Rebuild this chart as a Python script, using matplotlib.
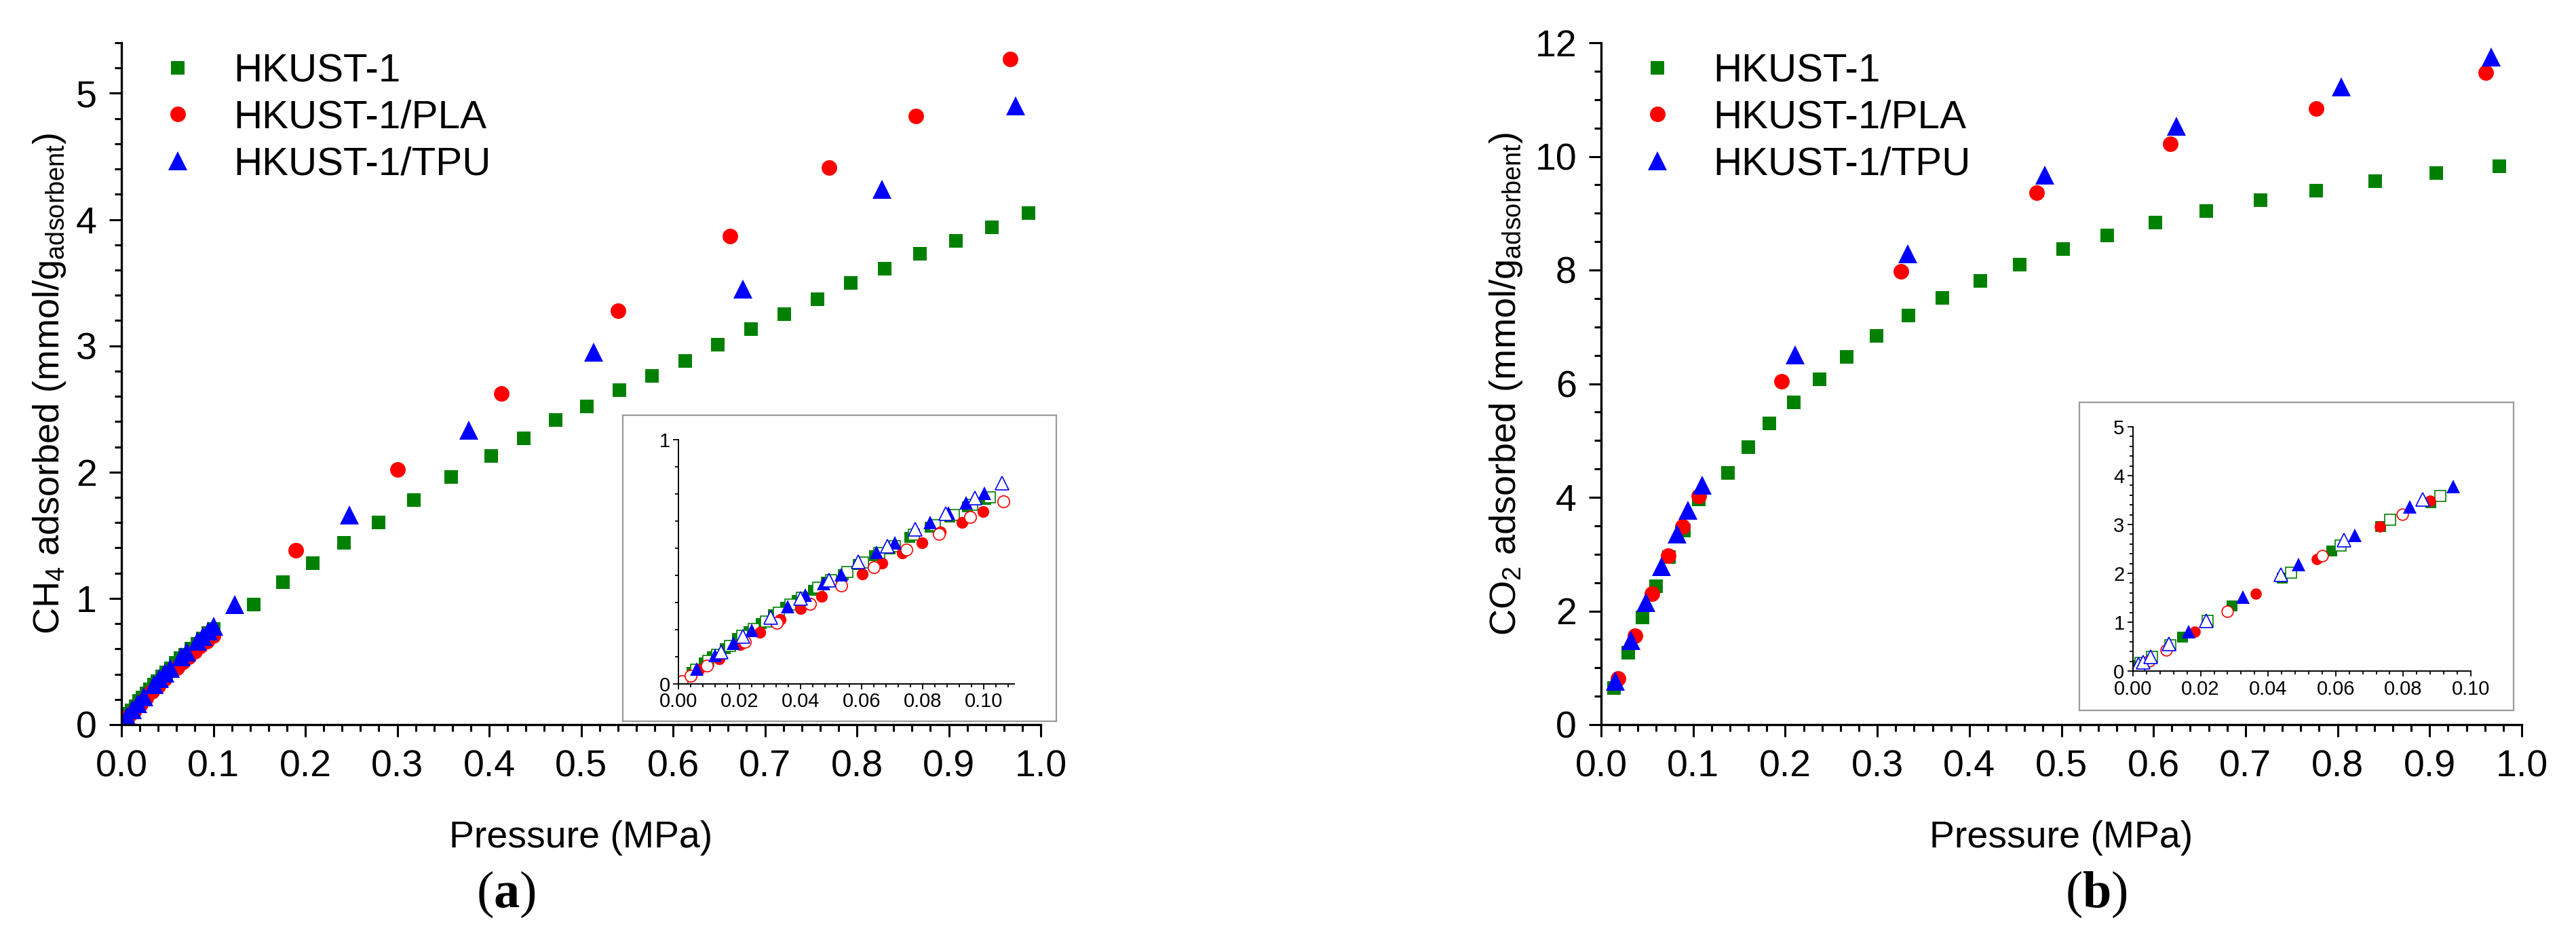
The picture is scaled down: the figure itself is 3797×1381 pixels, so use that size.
import numpy as np
import matplotlib
matplotlib.use("Agg")
import matplotlib.pyplot as plt
from matplotlib.ticker import MultipleLocator, FormatStrFormatter

plt.rcParams["font.family"] = ["Liberation Sans", "DejaVu Sans"]
plt.rcParams["mathtext.default"] = "regular"
plt.rcParams["mathtext.fontset"] = "custom"
plt.rcParams["mathtext.bf"] = "Liberation Serif:bold"

# ---------------- (a) CH4 ----------------
# low pressure region (inset), filled = adsorption, open = desorption
a_hk_p = [0.0044, 0.0084, 0.0112, 0.0153, 0.0193, 0.0230, 0.0271, 0.0312, 0.0352, 0.0389, 0.0443,
          0.0484, 0.0539, 0.0589, 0.0643, 0.0693, 0.0757, 0.0825, 0.0888, 0.0947, 0.1006]
a_hk_q = [0.048, 0.085, 0.112, 0.144, 0.186, 0.213, 0.246, 0.282, 0.315, 0.342, 0.384,
          0.416, 0.448, 0.489, 0.526, 0.554, 0.600, 0.641, 0.683, 0.724, 0.756]
a_hk_des_p = [0.0058, 0.0098, 0.0127, 0.0168, 0.0208, 0.0246, 0.0287, 0.0328, 0.0367, 0.0405, 0.0458,
              0.0500, 0.0553, 0.0604, 0.0657, 0.0708, 0.0772, 0.0840, 0.0903, 0.0962, 0.1020]
a_hk_des_q = [0.058, 0.095, 0.120, 0.155, 0.196, 0.224, 0.256, 0.292, 0.324, 0.352, 0.394,
              0.425, 0.458, 0.498, 0.536, 0.564, 0.610, 0.650, 0.692, 0.733, 0.765]
a_pla_p = [0.0066, 0.0134, 0.0203, 0.0266, 0.0334, 0.0400, 0.0468, 0.0602, 0.0666, 0.0734, 0.0797,
           0.0857, 0.0929, 0.0997]
a_pla_q = [0.057, 0.103, 0.160, 0.211, 0.264, 0.308, 0.358, 0.451, 0.494, 0.537, 0.579,
           0.621, 0.660, 0.706]
a_pla_des_p = [0.0012, 0.0039, 0.0094, 0.0218, 0.0323, 0.0430, 0.0534, 0.0641, 0.0747, 0.0854, 0.0956, 0.1065]
a_pla_des_q = [0.011, 0.034, 0.075, 0.172, 0.250, 0.328, 0.404, 0.478, 0.549, 0.614, 0.683, 0.747]
a_tpu_p = [0.0059, 0.0121, 0.0180, 0.0241, 0.0357, 0.0416, 0.0475, 0.0534, 0.0648, 0.0709, 0.0825,
           0.0884, 0.0943, 0.1002]
a_tpu_q = [0.062, 0.117, 0.167, 0.220, 0.316, 0.365, 0.411, 0.448, 0.540, 0.577, 0.660,
           0.701, 0.742, 0.781]
a_tpu_des_p = [0.0139, 0.0212, 0.0302, 0.0400, 0.0493, 0.0589, 0.0684, 0.0775, 0.0875, 0.0970, 0.1061]
a_tpu_des_q = [0.131, 0.195, 0.273, 0.351, 0.425, 0.499, 0.563, 0.632, 0.696, 0.761, 0.821]

# high pressure region (main plot)
a_hk_hp_p = [0.144, 0.176, 0.208, 0.242, 0.280, 0.318, 0.359, 0.402, 0.438, 0.472, 0.506, 0.542,
             0.577, 0.613, 0.649, 0.685, 0.721, 0.757, 0.793, 0.830, 0.869, 0.908, 0.947, 0.987]
a_hk_hp_q = [0.95, 1.13, 1.28, 1.44, 1.60, 1.78, 1.96, 2.13, 2.27, 2.41, 2.52, 2.65,
             2.76, 2.88, 3.01, 3.13, 3.25, 3.37, 3.50, 3.61, 3.73, 3.83, 3.94, 4.05]
a_pla_hp_p = [0.190, 0.300, 0.413, 0.540, 0.662, 0.770, 0.864, 0.967]
a_pla_hp_q = [1.38, 2.02, 2.62, 3.28, 3.87, 4.41, 4.82, 5.27]
a_tpu_hp_p = [0.123, 0.248, 0.378, 0.514, 0.676, 0.827, 0.973]
a_tpu_hp_q = [0.95, 1.66, 2.33, 2.95, 3.45, 4.24, 4.90]

# ---------------- (b) CO2 ----------------
b_hk_p = [0.014, 0.0295, 0.045, 0.0597, 0.0736, 0.0899, 0.1062, 0.138, 0.160, 0.183, 0.209, 0.237,
          0.267, 0.299, 0.334, 0.371, 0.412, 0.455, 0.502, 0.550, 0.602, 0.657, 0.716, 0.777,
          0.841, 0.907, 0.976]
b_hk_q = [0.65, 1.27, 1.89, 2.43, 2.95, 3.41, 3.96, 4.43, 4.88, 5.30, 5.67, 6.08,
          6.47, 6.84, 7.20, 7.51, 7.81, 8.10, 8.37, 8.61, 8.83, 9.04, 9.23, 9.40,
          9.57, 9.71, 9.83]
b_pla_p = [0.0186, 0.0372, 0.055, 0.0729, 0.0884, 0.1062, 0.196, 0.326, 0.473, 0.618, 0.777, 0.961]
b_pla_q = [0.81, 1.57, 2.30, 2.97, 3.49, 4.02, 6.04, 7.98, 9.36, 10.22, 10.84, 11.47]
b_tpu_p = [0.0155, 0.0326, 0.0488, 0.0659, 0.0822, 0.0946, 0.110, 0.211, 0.333, 0.482, 0.625, 0.804, 0.967]
b_tpu_q = [0.77, 1.48, 2.15, 2.78, 3.35, 3.77, 4.22, 6.51, 8.29, 9.67, 10.53, 11.22, 11.75]

# inset (b)
bi_hk_p = [0.0016, 0.0146, 0.0294, 0.0441, 0.0589, 0.0733, 0.0881]
bi_hk_q = [0.115, 0.688, 1.330, 1.904, 2.454, 2.959, 3.440]
bi_hk_des_p = [0.0023, 0.0056, 0.0110, 0.0221, 0.0467, 0.0614, 0.0762, 0.0910]
bi_hk_des_q = [0.161, 0.298, 0.528, 1.032, 2.018, 2.569, 3.096, 3.578]
bi_pla_p = [0.0182, 0.0364, 0.0544, 0.0730, 0.0880]
bi_pla_q = [0.812, 1.583, 2.294, 2.959, 3.486]
bi_pla_des_p = [0.0048, 0.0099, 0.0279, 0.0560, 0.0798]
bi_pla_des_q = [0.206, 0.436, 1.216, 2.362, 3.211]
bi_tpu_p = [0.0164, 0.0326, 0.0490, 0.0656, 0.0820, 0.0947]
bi_tpu_q = [0.803, 1.514, 2.179, 2.775, 3.362, 3.780]
bi_tpu_des_p = [0.0016, 0.0030, 0.0053, 0.0106, 0.0216, 0.0438, 0.0625, 0.0858]
bi_tpu_des_q = [0.138, 0.183, 0.298, 0.550, 1.032, 1.972, 2.683, 3.509]

labels = ["HKUST-1", "HKUST-1/PLA", "HKUST-1/TPU"]
GREEN, RED, BLUE = "#008000", "#ff0000", "#0000ff"

W, H = 3797, 1381
fig = plt.figure(figsize=(W / 100, H / 100), dpi=100)
fig.set_facecolor("white")


def pix_axes(l, t, r, b):
    return fig.add_axes([l / W, 1 - b / H, (r - l) / W, (b - t) / H])


def style_main(ax, ymax, ymaj, ymin):
    ax.set_xlim(0, 1.0)
    ax.set_ylim(0, ymax)
    for s in ["top", "right"]:
        ax.spines[s].set_visible(False)
    for s in ["left", "bottom"]:
        ax.spines[s].set_linewidth(2.4)
    ax.xaxis.set_major_locator(MultipleLocator(0.1))
    ax.xaxis.set_minor_locator(MultipleLocator(0.02))
    ax.xaxis.set_major_formatter(FormatStrFormatter("%.1f"))
    ax.yaxis.set_major_locator(MultipleLocator(ymaj))
    ax.yaxis.set_minor_locator(MultipleLocator(ymin))
    ax.tick_params(which="major", direction="out", length=13, width=2.2, labelsize=40, pad=13)
    ax.tick_params(which="minor", direction="out", length=7, width=2.2)
    ax.set_xlabel("Pressure (MPa)", fontsize=40, labelpad=38)


def style_inset(ax, xmax, ymax, ymaj, ymin, fs):
    ax.set_xlim(0, xmax)
    ax.set_ylim(0, ymax)
    ax.patch.set_alpha(0)
    for s in ["top", "right"]:
        ax.spines[s].set_visible(False)
    for s in ["left", "bottom"]:
        ax.spines[s].set_linewidth(1.4)
    ax.xaxis.set_major_locator(MultipleLocator(0.02))
    ax.xaxis.set_minor_locator(MultipleLocator(0.004))
    ax.xaxis.set_major_formatter(FormatStrFormatter("%.2f"))
    ax.yaxis.set_major_locator(MultipleLocator(ymaj))
    ax.yaxis.set_minor_locator(MultipleLocator(ymin))
    ax.tick_params(which="major", direction="out", length=6, width=1.3, labelsize=fs, pad=3)
    ax.tick_params(which="minor", direction="out", length=3.5, width=1.3)


def frame_axes(l, t, r, b):
    fr = pix_axes(l, t, r, b)
    fr.set_xticks([])
    fr.set_yticks([])
    for s in fr.spines.values():
        s.set_color("#9a9a9a")
        s.set_linewidth(1.6)
    return fr


def legend(ax):
    ax.legend(loc="upper left", bbox_to_anchor=(0.040, 0.985), frameon=False, fontsize=42,
              handlelength=1.0, handletextpad=0.9, labelspacing=0.25, borderpad=0,
              borderaxespad=0, numpoints=1)


ms_sq, ms_ci, ms_tr = 14.5, 16.5, 19.5

# ---------- panel (a) ----------
axa = pix_axes(179, 63, 1534, 1068)
axa.plot(a_hk_p + a_hk_hp_p, a_hk_q + a_hk_hp_q, "s", color=GREEN, ms=ms_sq, mew=0, label=labels[0])
axa.plot(a_pla_p + a_pla_hp_p, a_pla_q + a_pla_hp_q, "o", color=RED, ms=ms_ci, mew=0, label=labels[1])
axa.plot(a_tpu_p + a_tpu_hp_p, a_tpu_q + a_tpu_hp_q, "^", color=BLUE, ms=ms_tr, mew=0, label=labels[2])
style_main(axa, 5.4, 1, 0.2)
axa.set_ylabel("CH$_4$ adsorbed (mmol/g$_{adsorbent}$)", fontsize=39)
axa.yaxis.set_label_coords(-0.058, 0.5)
legend(axa)

frame_axes(918, 612, 1557, 1063)
ia = pix_axes(1000, 648, 1495, 1008)
ia.plot(a_hk_p, a_hk_q, "s", color=GREEN, ms=11, mew=0)
ia.plot(a_hk_des_p, a_hk_des_q, "s", mfc="white", mec=GREEN, ms=11, mew=1.2)
ia.plot(a_pla_p, a_pla_q, "o", color=RED, ms=12.5, mew=0)
ia.plot(a_pla_des_p, a_pla_des_q, "o", mfc="white", mec=RED, ms=12.5, mew=1.2)
ia.plot(a_tpu_p, a_tpu_q, "^", color=BLUE, ms=14, mew=0)
ia.plot(a_tpu_des_p, a_tpu_des_q, "^", mfc="white", mec=BLUE, ms=14, mew=1.2)
style_inset(ia, 0.11, 1.0, 1, 1 / 9, 21)

# ---------- panel (b) ----------
axb = pix_axes(2360, 63, 3717, 1068)
axb.plot(b_hk_p, b_hk_q, "s", color=GREEN, ms=ms_sq, mew=0, label=labels[0])
axb.plot(b_pla_p, b_pla_q, "o", color=RED, ms=ms_ci, mew=0, label=labels[1])
axb.plot(b_tpu_p, b_tpu_q, "^", color=BLUE, ms=ms_tr, mew=0, label=labels[2])
style_main(axb, 12, 2, 0.5)
axb.set_ylabel("CO$_2$ adsorbed (mmol/g$_{adsorbent}$)", fontsize=39)
axb.yaxis.set_label_coords(-0.083, 0.5)
legend(axb)

frame_axes(3065, 593, 3705, 1047)
ib = pix_axes(3144, 629, 3642, 989)
ib.plot(bi_hk_p, bi_hk_q, "s", color=GREEN, ms=11, mew=0)
ib.plot(bi_hk_des_p, bi_hk_des_q, "s", mfc="white", mec=GREEN, ms=11, mew=1.2)
ib.plot(bi_pla_p, bi_pla_q, "o", color=RED, ms=12, mew=0)
ib.plot(bi_pla_des_p, bi_pla_des_q, "o", mfc="white", mec=RED, ms=12, mew=1.2)
ib.plot(bi_tpu_p, bi_tpu_q, "^", color=BLUE, ms=14, mew=0)
ib.plot(bi_tpu_des_p, bi_tpu_des_q, "^", mfc="white", mec=BLUE, ms=14, mew=1.2)
style_inset(ib, 0.10, 5, 1, 0.2, 21)

# panel letters
fig.text(746 / W, 1 - 1318 / H, r"($\mathbf{a}$)", family="Liberation Serif", fontsize=55,
         ha="center", va="center")
fig.text(3090 / W, 1 - 1318 / H, r"($\mathbf{b}$)", family="Liberation Serif", fontsize=55,
         ha="center", va="center")

fig.savefig("out.png", dpi=100, facecolor="white")
